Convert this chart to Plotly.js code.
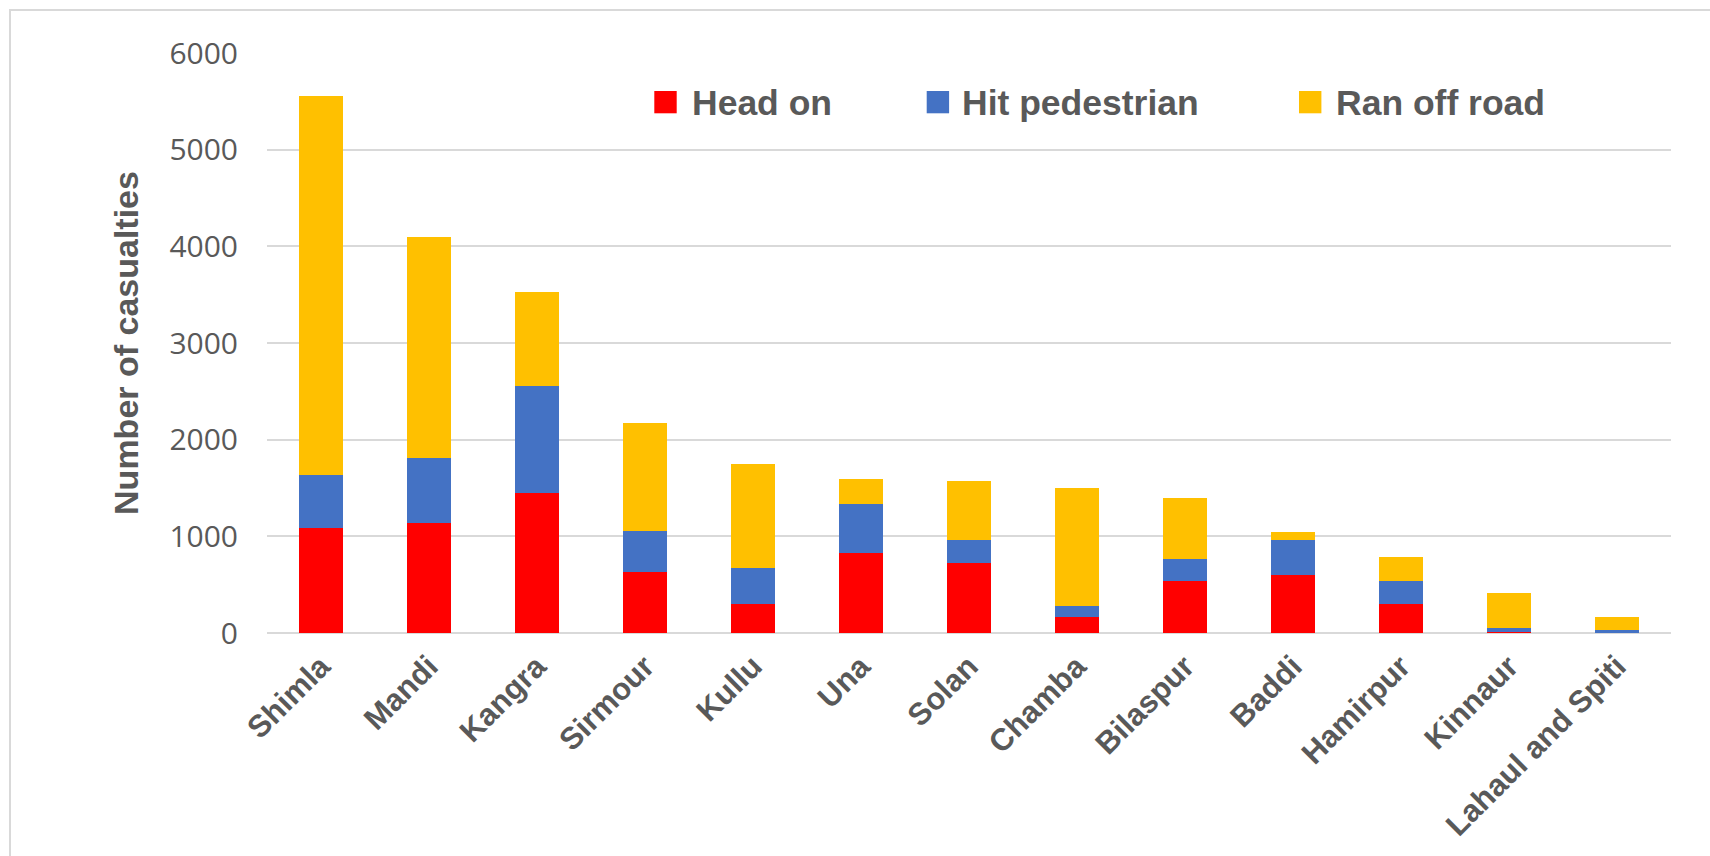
<!DOCTYPE html>
<html>
<head>
<meta charset="utf-8">
<script src="https://cdn.plot.ly/plotly-3.0.1.min.js"></script>
<style>
  html, body { margin: 0; padding: 0; background: #ffffff; }
  #chart { width: 1710px; height: 856px; }
</style>
</head>
<body>
<div id="chart"></div>
<script>
// ---- data ----
const districts = ["Shimla", "Mandi", "Kangra", "Sirmour", "Kullu", "Una", "Solan",
                   "Chamba", "Bilaspur", "Baddi", "Hamirpur", "Kinnaur", "Lahaul and Spiti"];
const headOn        = [1086, 1138, 1452, 632, 297, 829, 728, 161, 536, 597, 297, 8, 5];
const hitPedestrian = [545, 672, 1104, 428, 375, 510, 236, 122, 232, 367, 239, 40, 25];
const ranOffRoad    = [3921, 2289, 976, 1116, 1077, 253, 610, 1213, 628, 78, 253, 371, 140];
const seriesNames   = ["Head on", "Hit pedestrian", "Ran off road"];
const yTicks        = [0, 1000, 2000, 3000, 4000, 5000, 6000];

// ---- styles ----
const colors = ["#FF0000", "#4472C4", "#FFC000"];
const grey = "#595959";
const W = 1710, H = 856;
const M = { l: 267, r: 39, t: 53, b: 223 };
const plotW = W - M.l - M.r, plotH = H - M.t - M.b;
const px = x => (x - M.l) / plotW;
const py = y => (H - M.b - y) / plotH;

const seriesValues = [headOn, hitPedestrian, ranOffRoad];
const traces = seriesNames.map((name, i) => ({
  type: "bar",
  name: name,
  x: districts,
  y: seriesValues[i],
  marker: { color: colors[i], line: { width: 0 } },
  hoverinfo: "x+y+name"
}));

// manual legend (large square swatches like the original)
const legendItems = [
  { sq: 654.3, tx: 690 },
  { sq: 926.7, tx: 960 },
  { sq: 1299, tx: 1334 }
];
const shapes = [
  // outer chart frame
  { type: "rect", xref: "paper", yref: "paper",
    x0: px(10), x1: px(W + 10), y0: py(H + 10), y1: py(10),
    line: { color: "#d9d9d9", width: 2 }, fillcolor: "rgba(0,0,0,0)", layer: "below" }
];
const annotations = [];
legendItems.forEach((it, i) => {
  shapes.push({ type: "rect", xref: "paper", yref: "paper",
    x0: px(it.sq), x1: px(it.sq + 22.4), y0: py(113.3), y1: py(91),
    line: { width: 0 }, fillcolor: colors[i] });
  annotations.push({ xref: "paper", yref: "paper", x: px(it.tx), y: py(103),
    xanchor: "left", yanchor: "middle", showarrow: false, text: seriesNames[i],
    font: { family: "Liberation Sans, Arial, sans-serif", size: 35.5, color: grey, weight: "bold" } });
});

const layout = {
  width: W, height: H,
  margin: M,
  paper_bgcolor: "#ffffff",
  plot_bgcolor: "#ffffff",
  barmode: "stack",
  bargap: 0.593,
  showlegend: false,
  font: { family: "Liberation Sans, Arial, sans-serif", color: grey },
  xaxis: {
    type: "category",
    tickangle: -45,
    tickfont: { family: "Liberation Sans, Arial, sans-serif", size: 31, color: grey, weight: "bold" },
    ticklabelstandoff: 8,
    showgrid: false, zeroline: false, showline: false, ticks: "",
    automargin: false
  },
  yaxis: {
    range: [0, 6000],
    tickvals: yTicks,
    ticktext: yTicks.map(String),
    tickfont: { family: "Open Sans, Liberation Sans, sans-serif", size: 30, color: grey },
    ticklabelstandoff: 28,
    showgrid: true, gridcolor: "#d9d9d9", gridwidth: 2,
    zeroline: true, zerolinecolor: "#d9d9d9", zerolinewidth: 2,
    showline: false, ticks: "",
    automargin: false,
    title: { text: "Number of casualties", standoff: 20,
      font: { family: "Liberation Sans, Arial, sans-serif", size: 34, color: grey, weight: "bold" } }
  },
  shapes: shapes,
  annotations: annotations
};

Plotly.newPlot("chart", traces, layout, { displayModeBar: false, responsive: false });
</script>
</body>
</html>
